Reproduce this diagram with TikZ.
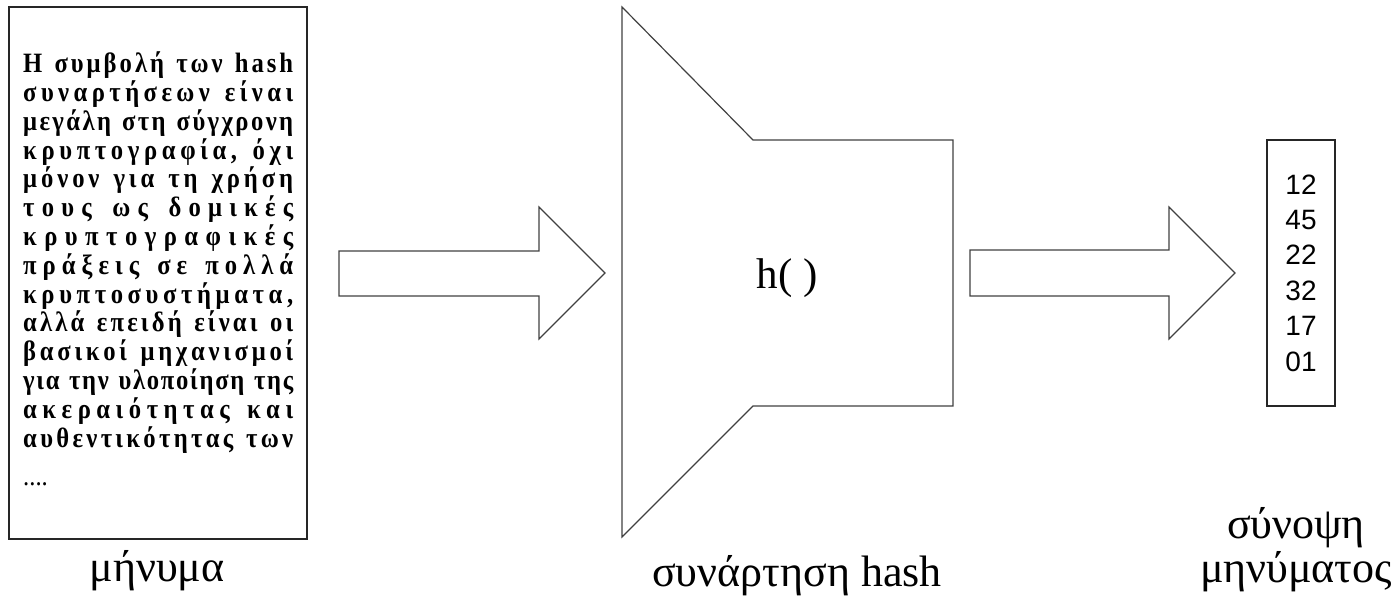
\documentclass[tikz,border=0pt]{standalone}
\usepackage{fontspec}
\setmainfont{Liberation Serif}
\newfontfamily\numfont{Liberation Sans}
\newfontfamily\msgfont{Liberation Serif}[FakeStretch=0.88]
\makeatletter
% spread the letters of one line over the full width
\def\spr@end{\spr@end}
\def\spr@#1{\ifx#1\spr@end\else#1\hskip 0pt plus 1fil\relax\expandafter\spr@\fi}
\newcommand\spreadline[1]{\makebox[270pt][s]{\spr@#1\spr@end\unskip}}
\makeatother
\tikzset{
  frame/.style={draw=black!85, line width=1.5pt},
  outline/.style={draw=black!75, line width=1.2pt, line join=miter},
  caption/.style={anchor=base, font=\fontsize{44}{44}\selectfont, align=center}
}
\begin{document}
\begin{tikzpicture}[x=1pt,y=-1pt]
\useasboundingbox (0,0) rectangle (1400,600);
% message
\node[frame, minimum width=298, minimum height=532] (msgbox) at (158,273) {};
\node[anchor=base west, inner sep=0, align=left, font=\msgfont\bfseries\fontsize{28}{28.8}\selectfont] (msg) at (23,447) {%
\spreadline{Η~συμβολή~των~hash}\\
\spreadline{συναρτήσεων~είναι}\\
\spreadline{μεγάλη~στη~σύγχρονη}\\
\spreadline{κρυπτογραφία,~όχι}\\
\spreadline{μόνον~για~τη~χρήση}\\
\spreadline{τους~ως~δομικές}\\
\spreadline{κρυπτογραφικές}\\
\spreadline{πράξεις~σε~πολλά}\\
\spreadline{κρυπτοσυστήματα,}\\
\spreadline{αλλά~επειδή~είναι~οι}\\
\spreadline{βασικοί~μηχανισμοί}\\
\spreadline{για~την~υλοποίηση~της}\\
\spreadline{ακεραιότητας~και}\\
\spreadline{αυθεντικότητας~των}};
\node[anchor=base west, inner sep=0, font=\msgfont\fontsize{28}{28}\selectfont] (msgdots) at (23,485) {....};
\node[caption] (msglabel) at (157,581) {μήνυμα};
% arrow in
\draw[outline] (339,251) -- (539,251) -- (539,207) -- (605,273) -- (539,339) -- (539,296) -- (339,296) -- cycle;
% hash function
\draw[outline] (622,7) -- (753,140) -- (953,140) -- (953,406) -- (753,406) -- (622,537) -- cycle;
\node[anchor=base, font=\fontsize{43}{43}\selectfont] (hfun) at (787,288) {h( )};
\node[caption] (hlabel) at (797,586) {συνάρτηση hash};
% arrow out
\draw[outline] (970,250) -- (1169,250) -- (1169,207) -- (1235,273) -- (1169,339) -- (1169,296) -- (970,296) -- cycle;
% digest
\node[frame, minimum width=68, minimum height=266, align=center, font=\numfont\fontsize{28}{35.4}\selectfont] (digest) at (1301,273) {12\\45\\22\\32\\17\\01};
\node[caption] (dlabel) at (1296,582) {σύνοψη\\μηνύματος};
\end{tikzpicture}
\end{document}
